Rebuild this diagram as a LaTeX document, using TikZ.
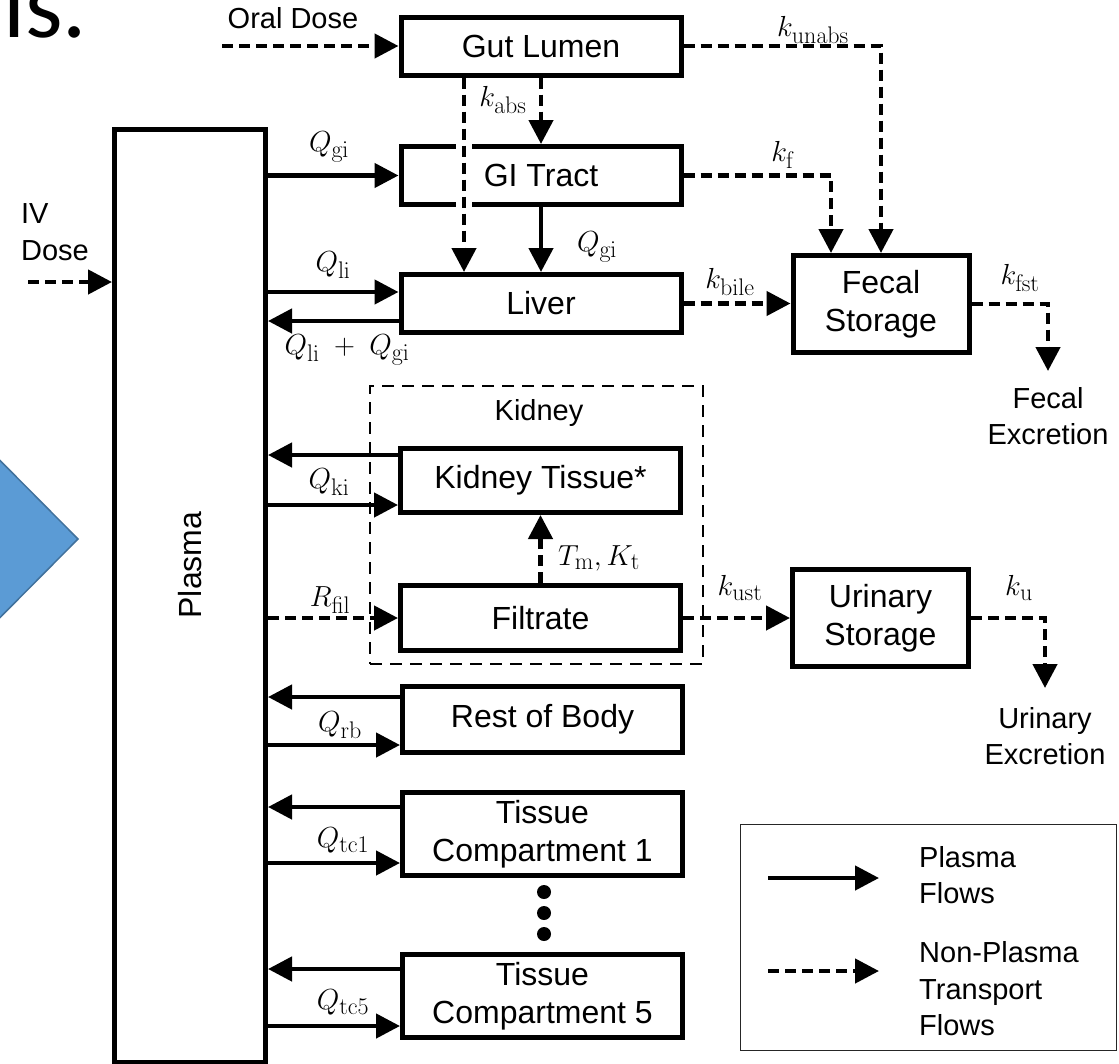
\RequirePackage{fix-cm}
\documentclass[tikz,border=0pt]{standalone}
\usepackage[no-math]{fontspec}
\setmainfont{Liberation Sans}
\newfontfamily\slidefont{Carlito}
\usetikzlibrary{arrows.meta,calc}
\DeclareMathSizes{29}{29}{24}{18}

\definecolor{slideblue}{HTML}{5B9BD5}
\definecolor{slideedge}{HTML}{41719C}
\newcommand{\boxfont}{\fontsize{32}{38}\selectfont}
\newcommand{\lblfont}{\fontsize{29}{36.5}\selectfont}
\newcommand{\ratefont}{\fontsize{29}{34}\selectfont}

\tikzset{
	comp/.style={draw,line width=5pt,font=\boxfont,align=center,inner sep=0pt},
	flow/.style={line width=4.5pt,-{Triangle[length=24pt,width=24pt]}},
	transport/.style={flow,dash pattern=on 11pt off 6pt},
	lbl/.style={font=\lblfont,align=center,inner sep=0pt},
	rate/.style={font=\ratefont,inner sep=0pt},
}

\begin{document}
\begin{tikzpicture}[x=1pt,y=-1pt]
				% Frame
				\useasboundingbox (0,0) rectangle (1119,1063);
				
				% Slide remains
				\filldraw[fill=slideblue,draw=slideedge,line width=1.5pt] (-60,400) -- (78,539) -- (-60,678) -- cycle;
				\node[anchor=base west,inner sep=0pt,font=\slidefont\fontsize{96}{96}\selectfont] (slidetxt) at (3,37) {ls.};
				
				% Compartments
				\node[comp,minimum width=151pt,minimum height=933pt] (plasma) at (190,596) {};
				\node[lbl,font=\boxfont,rotate=90] (plasmalbl) at (190,565) {Plasma};
				\node[comp,minimum width=280pt,minimum height=58pt] (gut) at (541,46) {Gut Lumen};
				\node[comp,minimum width=280pt,minimum height=58pt] (gi) at (541,175.5) {GI Tract};
				\node[comp,minimum width=280pt,minimum height=58pt] (liver) at (541,303.5) {Liver};
				\node[comp,minimum width=176pt,minimum height=97pt] (fecal) at (881,304) {Fecal\\Storage};
				\node[comp,minimum width=280pt,minimum height=64pt] (kt) at (540.5,480.5) {Kidney Tissue*};
				\node[comp,minimum width=280pt,minimum height=65pt] (filt) at (540.5,618) {Filtrate};
				\node[comp,minimum width=176pt,minimum height=97pt] (uri) at (880.5,618) {Urinary\\Storage};
				\node[comp,minimum width=280pt,minimum height=66pt] (rob) at (542.5,719.5) {Rest of Body};
				\node[comp,minimum width=280pt,minimum height=83pt] (tc1) at (542.5,834) {Tissue\\Compartment 1};
				\node[comp,minimum width=280pt,minimum height=83pt] (tc5) at (542.5,996) {Tissue\\Compartment 5};
				
				% Kidney group
				\node[draw,line width=2.5pt,dash pattern=on 12pt off 8pt,minimum width=333pt,minimum height=278pt] (kidney) at (536.5,525) {};
				\node[lbl] (kidneylbl) at (539,413) {Kidney};
				
				% Dots
				\foreach \y in {892,913,934}
				\fill (544,\y) circle (7);
				
				% Doses
				\coordinate (oral) at (222,46);
				\coordinate (iv) at (28,282);
				\node[lbl] (orallbl) at (293,18) {Oral Dose};
				\node[lbl,align=left] (ivlbl) at (55,232) {IV\\Dose};
				\draw[transport] (oral) -- (gut.west);
				\draw[transport] (iv) -- (iv -| plasma.west);
				
				% Gut and liver
				\draw[white,line width=16pt] ([xshift=-77pt,yshift=2pt]gi.north) -- ([xshift=-77pt,yshift=-2pt]gi.south);
				\draw[transport] ([xshift=-77pt]gut.south) -- ([xshift=-77pt]liver.north);
				\draw[transport] (gut.south) -- (gi.north);
				\draw[flow] (gi.south) -- (liver.north);
				\draw[flow] (gi.west -| plasma.east) -- (gi.west);
				\draw[flow] ([yshift=11.5pt]liver.west -| plasma.east) -- ([yshift=11.5pt]liver.west);
				\draw[flow] ([yshift=-17.5pt]liver.west) -- ([yshift=-17.5pt]liver.west -| plasma.east);
				\node[rate] (kabs) at (503,100) {$k_{\mathrm{abs}}$};
				\node[rate] (qgiin) at (329,147) {$Q_{\mathrm{gi}}$};
				\node[rate] (qgiliv) at (597,247) {$Q_{\mathrm{gi}}$};
				\node[rate] (qli) at (333,265) {$Q_{\mathrm{li}}$};
				\node[rate] (qliout) at (347,350) {$Q_{\mathrm{li}}\ +\ Q_{\mathrm{gi}}$};
				
				% Fecal route
				\coordinate (fexc) at (1048,371);
				\draw[transport] (gut.east) -| (fecal.north);
				\draw[transport] (gi.east) -| ([xshift=-50pt]fecal.north);
				\draw[transport] (liver.east) -- (liver.east -| fecal.west);
				\draw[transport] (fecal.east) -| (fexc);
				\node[rate] (kunabs) at (813,30) {$k_{\mathrm{unabs}}$};
				\node[rate] (kf) at (783,155) {$k_{\mathrm{f}}$};
				\node[rate] (kbile) at (730,282) {$k_{\mathrm{bile}}$};
				\node[rate] (kfst) at (1020,278) {$k_{\mathrm{fst}}$};
				\node[lbl] (fexclbl) at (1048,416) {Fecal\\Excretion};
				
				% Tissues and plasma
				\foreach \n/\up/\dn/\q/\lx/\ly in {kt/25.5pt/-24.5pt/ki/329/482, rob/22.5pt/-25.5pt/rb/340/725, tc1/27pt/-29pt/tc1/343/840, tc5/27pt/-30pt/tc5/343/1002}{
					\draw[flow] ([yshift=\up]\n.west) -- ([yshift=\up]\n.west -| plasma.east);
					\draw[flow] ([yshift=\dn]\n.west -| plasma.east) -- ([yshift=\dn]\n.west);
					\node[rate] (q\q) at (\lx,\ly) {$Q_{\mathrm{\q}}$};
				}
				
				% Urinary route
				\coordinate (uexc) at (1045,688);
				\draw[transport] (filt.west -| plasma.east) -- (filt.west);
				\draw[transport] (filt.north) -- (kt.south);
				\draw[transport] (filt.east) -- (uri.west);
				\draw[transport] (uri.east) -| (uexc);
				\node[rate] (rfil) at (330,600) {$R_{\mathrm{fil}}$};
				\node[rate,anchor=west] (tmkt) at (558,558) {$T_{\mathrm{m}}, K_{\mathrm{t}}$};
				\node[rate] (kust) at (740,588) {$k_{\mathrm{ust}}$};
				\node[rate] (ku) at (1019,588) {$k_{\mathrm{u}}$};
				\node[lbl] (uexclbl) at (1045,736) {Urinary\\Excretion};
				
				% Legend
				\node[draw=black!85,line width=1.5pt,minimum width=376pt,minimum height=226pt] (legend) at (928.5,937.5) {};
				\coordinate (lsa) at (768,878);
				\coordinate (lsb) at (879,878);
				\coordinate (lda) at (768,971);
				\coordinate (ldb) at (879,971);
				\draw[flow] (lsa) -- (lsb);
				\draw[transport] (lda) -- (ldb);
				\node[lbl,anchor=west,align=left] (legsolid) at (919,875) {Plasma\\Flows};
				\node[lbl,anchor=west,align=left] (legdash) at (919,989) {Non-Plasma\\Transport\\Flows};
\end{tikzpicture}
\end{document}
